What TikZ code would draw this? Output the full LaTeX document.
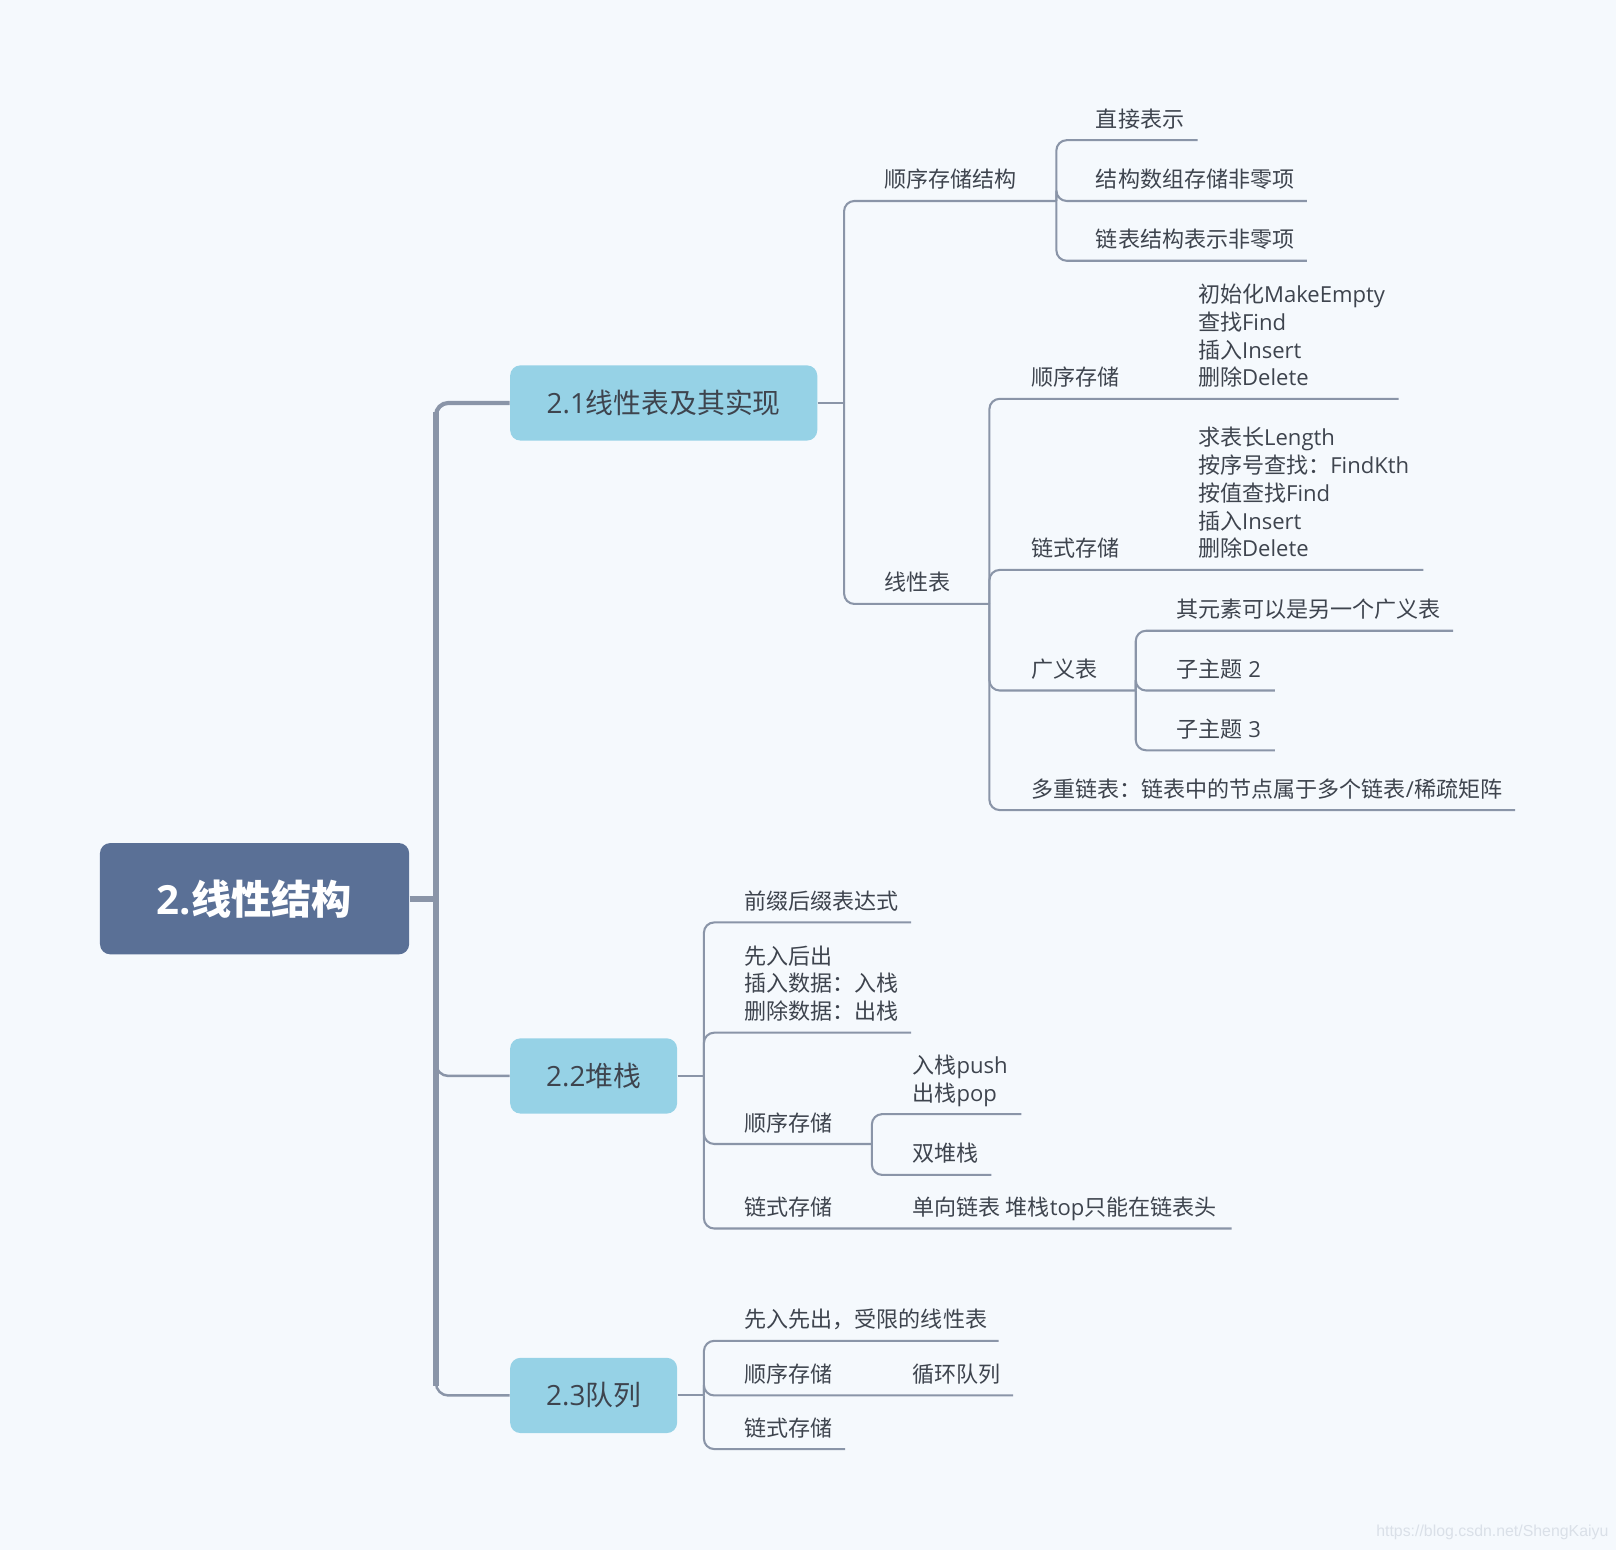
\documentclass[tikz,border=0pt]{standalone}
\usepackage{fontspec}
\setmainfont{Noto Sans CJK SC}
\newfontfamily\latf{Open Sans}
\newfontfamily\wmf{Liberation Sans}
\newcommand\ltn[1]{{\latf #1}}
\newcommand\mlines[1]{\begin{tabular}[b]{@{}l@{}}#1\end{tabular}}
\definecolor{bgc}{RGB}{245,249,253}
\definecolor{rootc}{RGB}{90,112,150}
\definecolor{boxc}{RGB}{150,210,230}
\definecolor{linec}{RGB}{138,149,168}
\definecolor{txtc}{RGB}{62,68,78}
\definecolor{wmc}{RGB}{218,224,232}
\begin{document}
\begin{tikzpicture}[x=0.5pt,y=-0.5pt,
  txt/.style={anchor=base west, inner sep=0pt, yshift=-0.7pt, text=txtc, font=\fontsize{10.7}{13.5}\selectfont},
  ln/.style={draw=linec, line width=1pt, rounded corners=5pt},
  trunk/.style={draw=linec, line width=2.9pt},
  thinbranch/.style={draw=linec, line width=1.2pt, rounded corners=6pt},
  midbox/.style={fill=boxc, rounded corners=5pt, text=txtc, font=\fontsize{13.5}{16}\selectfont, minimum height=36.5pt, inner sep=0pt},
  rootbox/.style={fill=rootc, rounded corners=5pt, text=white, minimum width=150pt, minimum height=54pt, inner sep=0pt, font=\fontsize{19.5}{22}\selectfont\bfseries}
]
\fill[bgc] (0,0) rectangle (1568,1504);
\useasboundingbox (0,0) rectangle (1568,1504);

% main boxes
\node[rootbox] (root) at (247,872) {\ltn{2.}线性结构};
\node[midbox, minimum width=149pt] (b21) at (644,391) {\ltn{2.1}线性表及其实现};
\node[midbox, minimum width=81pt] (b22) at (576,1044) {\ltn{2.2}堆栈};
\node[midbox, minimum width=81pt] (b23) at (576,1354) {\ltn{2.3}队列};

% junction coordinates
\coordinate (J0) at (423,872);
\coordinate (T1) at (423,400);
\coordinate (T3) at (423,1345);
\coordinate (J1) at (819,391);
\coordinate (J11) at (1025,195);
\coordinate (J12) at (960,586);
\coordinate (J123) at (1102,670);
\coordinate (J2) at (683,1044);
\coordinate (J23) at (846,1110);
\coordinate (J3) at (683,1354);

% line ends
\coordinate (E111) at (1162,136);
\coordinate (E112) at (1268,195);
\coordinate (E113) at (1268,253);
\coordinate (E121) at (1357,387);
\coordinate (E122) at (1381,553);
\coordinate (E1231) at (1410,612);
\coordinate (E1232) at (1237,670);
\coordinate (E1233) at (1237,728);
\coordinate (E124) at (1470,786);
\coordinate (E21) at (884,895);
\coordinate (E22) at (884,1002);
\coordinate (E231) at (991,1081);
\coordinate (E232) at (962,1140);
\coordinate (E24) at (1195,1192);
\coordinate (E31) at (969,1301);
\coordinate (E32) at (983,1354);
\coordinate (E33) at (820,1406);

% texts: 2.1
\node[txt] (a1) at (858,181) {顺序存储结构};
\node[txt] (a11) at (1063,122) {直接表示};
\node[txt] (a12) at (1063,181) {结构数组存储非零项};
\node[txt] (a13) at (1063,239) {链表结构表示非零项};
\node[txt] (a2) at (858,572) {线性表};
\node[txt] (a21) at (1000,373) {顺序存储};
\node[txt] (a211) at (1162,373) {\mlines{初始化\ltn{MakeEmpty}\\查找\ltn{Find}\\插入\ltn{Insert}\\删除\ltn{Delete}}};
\node[txt] (a22) at (1000,539) {链式存储};
\node[txt] (a221) at (1162,539) {\mlines{求表长\ltn{Length}\\按序号查找：\ltn{FindKth}\\按值查找\ltn{Find}\\插入\ltn{Insert}\\删除\ltn{Delete}}};
\node[txt] (a23) at (1000,656) {广义表};
\node[txt] (a231) at (1141,598) {其元素可以是另一个广义表};
\node[txt] (a232) at (1141,656) {子主题\ltn{ 2}};
\node[txt] (a233) at (1141,714) {子主题\ltn{ 3}};
\node[txt] (a24) at (1000,772) {多重链表：链表中的节点属于多个链表\ltn{/}稀疏矩阵};

% texts: 2.2
\node[txt] (s1) at (722,881) {前缀后缀表达式};
\node[txt] (s2) at (722,988) {\mlines{先入后出\\插入数据：入栈\\删除数据：出栈}};
\node[txt] (s3) at (722,1096) {顺序存储};
\node[txt] (s31) at (885,1067) {\mlines{入栈\ltn{push}\\出栈\ltn{pop}}};
\node[txt] (s32) at (885,1126) {双堆栈};
\node[txt] (s4) at (722,1178) {链式存储};
\node[txt] (s41) at (885,1178) {单向链表 堆栈\ltn{top}只能在链表头};

% texts: 2.3
\node[txt] (q1) at (722,1287) {先入先出，受限的线性表};
\node[txt] (q2) at (722,1340) {顺序存储};
\node[txt] (q21) at (885,1340) {循环队列};
\node[txt] (q3) at (722,1392) {链式存储};

% trunk
\draw[trunk] (root.east) -- (J0);
\draw[trunk] (T1) -- (T3);
\draw[thinbranch, line width=2pt] (J0) |- (b21.west);
\draw[thinbranch] (J0) |- (b22.west);
\draw[thinbranch] (J0) |- (b23.west);

% 2.1 branches
\draw[ln] (b21.east) -- (J1);
\draw[ln] (J1) |- (J11);
\draw[ln] (J1) |- (J12);
\draw[ln] (J11) |- (E111);
\draw[ln] (J11) |- (E112);
\draw[ln] (J11) |- (E113);
\draw[ln] (J12) |- (E121);
\draw[ln] (J12) |- (E122);
\draw[ln] (J12) |- (J123);
\draw[ln] (J12) |- (E124);
\draw[ln] (J123) |- (E1231);
\draw[ln] (J123) |- (E1232);
\draw[ln] (J123) |- (E1233);

% 2.2 branches
\draw[ln] (b22.east) -- (J2);
\draw[ln] (J2) |- (E21);
\draw[ln] (J2) |- (E22);
\draw[ln] (J2) |- (J23);
\draw[ln] (J2) |- (E24);
\draw[ln] (J23) |- (E231);
\draw[ln] (J23) |- (E232);

% 2.3 branches
\draw[ln] (b23.east) -- (J3);
\draw[ln] (J3) |- (E31);
\draw[ln] (J3) |- (E32);
\draw[ln] (J3) |- (E33);

% watermark
\node[anchor=east, inner sep=0pt, text=wmc, font=\wmf\fontsize{7.7}{8.5}\selectfont] (wm) at (1561,1487) {https://blog.csdn.net/ShengKaiyu};
\end{tikzpicture}
\end{document}
